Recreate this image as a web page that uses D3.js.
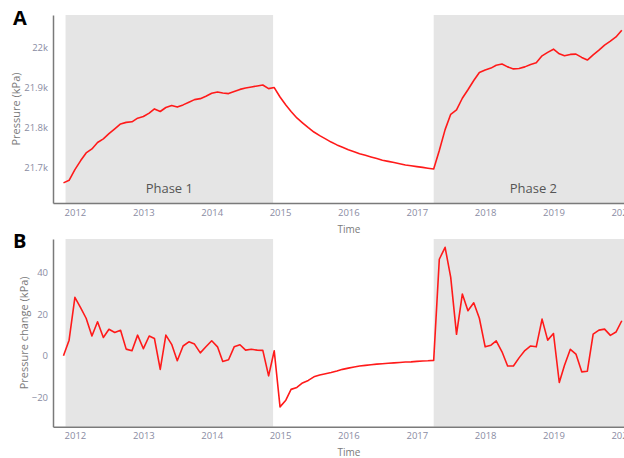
<!DOCTYPE html>
<html>
<head>
<meta charset="utf-8">
<script src="https://cdn.jsdelivr.net/npm/d3@7"></script>
<style>
  html, body { margin: 0; padding: 0; background: #fff; }
  svg { display: block; }
  text { font-family: "Open Sans", "DejaVu Sans", sans-serif; }
</style>
</head>
<body>
<svg id="chart" width="624" height="458"></svg>
<script>
// Monthly reservoir pressure (kPa), first of each month
const phase1Start = "2011-11-01";
const pressurePhase1 = [
  21662.6, 21669,
  21695.6, 21718, 21737, 21747, 21763, 21772, 21785, 21797, 21809, 21813, 21814.4, 21823.5,
  21827.5, 21836, 21846.5, 21840, 21850, 21855, 21851, 21856.5, 21863, 21869.6, 21872, 21878,
  21885.3, 21888.6, 21886, 21884.5, 21889.5, 21895, 21898.5, 21901, 21903.5, 21906, 21897, 21899.5
];
const pressureShutIn = [
  21876, 21856, 21840, 21824, 21812, 21800, 21789, 21780, 21772, 21764, 21757, 21751,
  21745, 21740, 21735, 21731, 21727, 21723, 21719, 21716, 21713, 21710, 21707, 21705,
  21703, 21701, 21699, 21697
];
const pressurePhase2 = [
  21743, 21795, 21833, 21844, 21873, 21894, 21917, 21937,
  21943, 21948, 21955, 21958, 21951, 21946, 21947, 21951, 21957, 21961, 21978.5, 21987,
  21995, 21983.5, 21978.5, 21982, 21982.7, 21974.5, 21968, 21981, 21992.6, 22005, 22015, 22025.5,
  22042
];

// Month-on-month pressure change (kPa)
const changePhase1 = [
  0, 7.5,
  28, 23, 18, 9.5, 16.3, 8.8, 12.7, 11.2, 12.2, 3.2, 2.4, 9.9,
  3.4, 9.5, 8.3, -6.5, 9.9, 5.5, -2.4, 4.7, 6.7, 5.6, 1.4, 4.3,
  7.2, 4.3, -2.7, -1.9, 4.3, 5.3, 2.7, 3.1, 2.7, 2.6, -9.6, 2.4
];
const changeShutIn = [
  -24.5, -21.3, -16.1, -15.2, -13, -11.8, -10.1, -9.2, -8.6, -8.0, -7.3, -6.5,
  -5.9, -5.4, -4.9, -4.6, -4.3, -4.0, -3.8, -3.6, -3.4, -3.2, -3.0, -2.9,
  -2.7, -2.5, -2.4, -2.2
];
const changePhase2 = [
  46.3, 52, 37.6, 10.3, 29.6, 21.6, 25.4, 18,
  4.3, 5.1, 7.2, 1.9, -4.9, -4.9, -1, 2.5, 4.7, 4.3, 17.6, 7.5,
  10.7, -12.8, -4.5, 3.1, 0.8, -7.7, -7.4, 10.4, 12.3, 12.8, 9.8, 11.4,
  16.8
];

// Shaded operating phases
const phases = [
  { label: "Phase 1", start: "2011-11-12", end: "2014-11-25" },
  { label: "Phase 2", start: "2017-04-01", end: "2020-03-01" }
];

const yearTicks = ["2012", "2013", "2014", "2015", "2016", "2017", "2018", "2019", "2020"];
const pressureTicks = [21700, 21800, 21900, 22000];
const changeTicks = [-20, 0, 20, 40];

const parse = d3.utcParse("%Y-%m-%d");
const pressure = pressurePhase1.concat(pressureShutIn, pressurePhase2);
const change = changePhase1.concat(changeShutIn, changePhase2);
const months = d3.utcMonth.range(parse(phase1Start),
  d3.utcMonth.offset(parse(phase1Start), pressure.length));

const svg = d3.select("#chart");
const left = 53, right = 645;

const x = d3.scaleUtc()
  .domain([parse("2011-09-06"), parse("2020-05-04")])
  .range([left, right]);

const panels = [
  { letter: "A", top: 15, bottom: 203, domain: [21612.5, 22080], values: pressure,
    ticks: pressureTicks, fmt: d => d3.format(".3~s")(d),
    title: "Pressure (kPa)", titleX: 17, phaseLabels: true, letterY: 25, timeY: 233 },
  { letter: "B", top: 239, bottom: 426.7, domain: [-34, 56], values: change,
    ticks: changeTicks, fmt: d => d3.format("d")(d),
    title: "Pressure change (kPa)", titleX: 25, phaseLabels: false, letterY: 248, timeY: 455.5 }
];

panels.forEach((p, i) => {
  const y = d3.scaleLinear().domain(p.domain).range([p.bottom, p.top]);
  const g = svg.append("g");

  g.append("clipPath").attr("id", "clip" + i)
    .append("rect").attr("x", left).attr("y", p.top)
    .attr("width", right - left).attr("height", p.bottom - p.top);

  // phase shading
  g.selectAll("rect.phase").data(phases).join("rect")
    .attr("class", "phase")
    .attr("x", d => x(parse(d.start)))
    .attr("width", d => x(parse(d.end)) - x(parse(d.start)))
    .attr("y", p.top).attr("height", p.bottom - p.top)
    .attr("fill", "#e5e5e5");

  if (p.phaseLabels) {
    g.selectAll("text.phase").data(phases).join("text")
      .attr("class", "phase")
      .attr("x", d => (x(parse(d.start)) + x(parse(d.end))) / 2)
      .attr("y", 193)
      .attr("text-anchor", "middle")
      .attr("font-size", 13)
      .attr("fill", "#555")
      .text(d => d.label);
  }

  // series line
  const line = d3.line().x((d, j) => x(months[j])).y(d => y(d));
  g.append("path")
    .datum(p.values)
    .attr("clip-path", `url(#clip${i})`)
    .attr("d", line)
    .attr("fill", "none")
    .attr("stroke", "#ff1a1a")
    .attr("stroke-width", 1.6)
    .attr("stroke-linejoin", "round");

  // axes
  const yAxis = g.append("g").attr("transform", `translate(${left},0)`)
    .call(d3.axisLeft(y).tickValues(p.ticks).tickFormat(p.fmt).tickSize(0).tickSizeOuter(0).tickPadding(5));
  const xAxis = g.append("g").attr("transform", `translate(0,${p.bottom})`)
    .call(d3.axisBottom(x).tickValues(yearTicks.map(t => parse(t + "-01-01")))
      .tickFormat(d3.utcFormat("%Y")).tickSize(0).tickSizeOuter(0).tickPadding(6));
  [yAxis, xAxis].forEach(a => {
    a.select(".domain").attr("stroke", "#7a7a7a").attr("stroke-width", 1.5);
    a.selectAll(".tick text").attr("fill", "#8a8ca3").attr("font-size", 9.5)
      .attr("font-family", "'Open Sans', sans-serif");
  });

  // axis titles
  g.append("text")
    .attr("transform", `translate(${p.titleX},${(p.top + p.bottom) / 2}) rotate(-90)`)
    .attr("text-anchor", "middle").attr("dominant-baseline", "middle")
    .attr("font-size", 11).attr("fill", "#7a7a7a")
    .text(p.title);
  g.append("text")
    .attr("x", (left + right) / 2).attr("y", p.timeY)
    .attr("text-anchor", "middle")
    .attr("font-size", 10).attr("fill", "#7a7a7a")
    .text("Time");

  // panel letter
  g.append("text")
    .attr("x", 13).attr("y", p.letterY)
    .attr("font-family", "'Liberation Sans', Arial, sans-serif")
    .attr("font-weight", "bold").attr("font-size", 20).attr("fill", "#000")
    .text(p.letter);
});
</script>
</body>
</html>
